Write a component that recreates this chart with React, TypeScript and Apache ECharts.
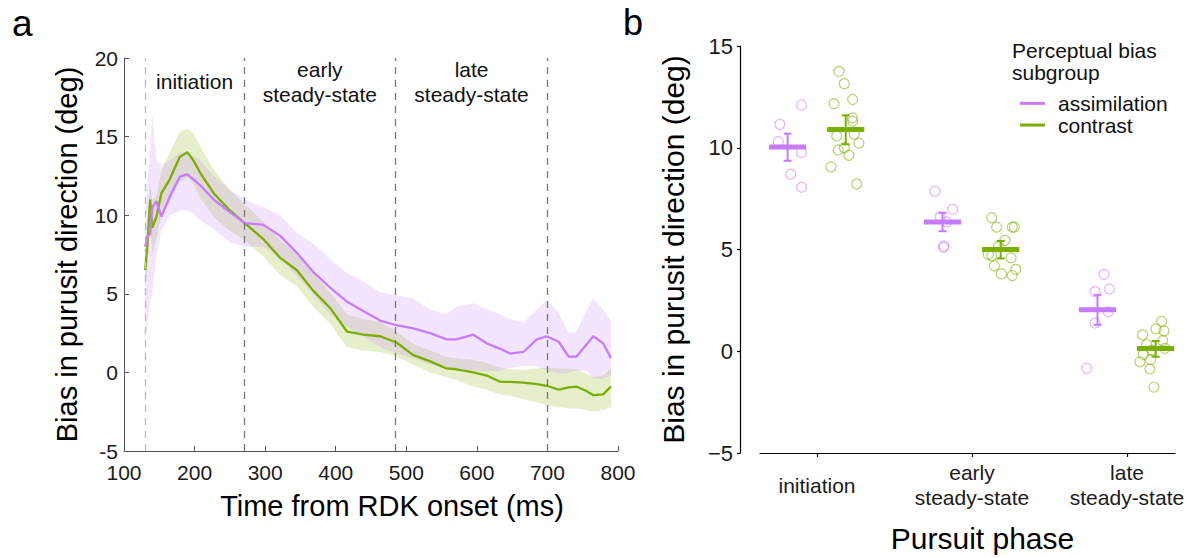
import React, { useEffect, useRef } from "react";
import * as echarts from "echarts";

// ---------- Panel a: bias time course ----------
const timeMs = [130, 133, 137, 140, 146, 153, 165, 179, 190, 198, 208, 227, 250, 271, 297, 321, 345, 368, 392, 416, 439, 463, 486, 510, 534, 557, 571, 595, 614, 633, 647, 666, 685, 699, 716, 730, 741, 756, 765, 779, 790];
const assimMean = [8.0, 8.6, 8.8, 10.5, 10.9, 9.9, 11.2, 12.45, 12.6, 12.3, 11.9, 11.0, 10.2, 9.5, 9.4, 8.7, 7.6, 6.4, 5.4, 4.5, 3.9, 3.3, 3.0, 2.8, 2.5, 2.1, 2.1, 2.4, 1.85, 1.5, 1.2, 1.3, 2.1, 2.3, 1.95, 1.0, 1.0, 1.8, 2.3, 1.85, 0.9];
const assimHigh = [9.5, 12.0, 14.0, 16.5, 13.5, 13.2, 13.5, 14.0, 14.0, 13.8, 13.5, 12.5, 11.6, 11.0, 10.5, 10.0, 8.9, 8.2, 7.2, 6.3, 5.8, 5.1, 4.9, 4.7, 4.0, 3.7, 4.2, 4.4, 4.0, 3.7, 3.4, 3.2, 4.0, 4.6, 3.8, 2.5, 2.6, 4.0, 4.7, 4.0, 3.3];
const assimLow = [2.0, 3.0, 4.5, 5.0, 7.5, 9.0, 10.0, 10.3, 10.3, 10.1, 9.7, 9.1, 8.3, 8.0, 8.0, 7.3, 6.1, 5.0, 3.7, 2.9, 2.3, 1.6, 1.2, 0.9, 0.5, 0.2, 0.15, 0.1, 0.05, 0.1, 0.3, 0.4, 0.4, 0.1, -0.05, 0.0, 0.1, 0.1, -0.4, -0.4, -0.2];
const contrMean = [6.5, 8.0, 11.0, 9.2, 9.9, 11.4, 12.3, 13.7, 14.0, 13.5, 12.7, 11.4, 10.3, 9.5, 8.5, 7.3, 6.5, 5.2, 4.1, 2.6, 2.4, 2.3, 1.9, 1.1, 0.7, 0.25, 0.2, 0.0, -0.2, -0.6, -0.6, -0.65, -0.75, -0.85, -1.1, -0.95, -0.9, -1.2, -1.45, -1.4, -0.9];
const contrHigh = [7.5, 9.5, 12.0, 11.0, 11.2, 12.8, 14.0, 15.3, 15.5, 15.2, 14.4, 12.9, 11.6, 10.7, 9.6, 8.4, 7.5, 6.3, 5.1, 3.7, 3.4, 3.2, 2.6, 1.8, 1.4, 1.0, 0.9, 0.8, 0.6, 0.3, 0.2, 0.15, 0.25, 0.3, 0.25, 0.25, 0.2, -0.1, -0.3, -0.2, 0.3];
const contrLow = [5.5, 6.5, 9.5, 7.5, 8.5, 10.0, 10.8, 12.1, 12.4, 12.0, 11.1, 9.9, 9.0, 8.4, 7.4, 6.2, 5.5, 4.2, 3.1, 1.6, 1.4, 1.3, 1.0, 0.5, 0.0, -0.3, -0.5, -0.9, -1.1, -1.4, -1.5, -1.7, -1.9, -2.1, -2.2, -2.3, -2.3, -2.4, -2.5, -2.4, -2.2];
const phaseBoundsMs = [130, 270, 485, 700];
const phaseLabels = ["initiation", "early\nsteady-state", "late\nsteady-state"];

// ---------- Panel b: bias per pursuit phase ----------
const phasePos = [1, 2, 3];
const assimOffset = -0.19;
const contrOffset = 0.185;
const assimInitBias = [12.1, 11.15, 10.3, 9.76, 8.7, 8.06];
const assimInitJitter = [-0.1, -0.24, -0.25, -0.1, -0.17, -0.1];
const assimEarlyBias = [7.86, 6.97, 6.6, 6.35, 5.18, 5.1];
const assimEarlyJitter = [-0.239, -0.125, -0.206, -0.163, -0.181, -0.185];
const assimLateBias = [3.78, 3.06, 2.93, 1.93, 1.39, -0.84];
const assimLateJitter = [-0.148, -0.114, -0.206, -0.12, -0.206, -0.26];
const contrInitBias = [13.75, 13.15, 12.17, 12.37, 11.47, 11.31, 10.58, 10.66, 10.23, 10.0, 9.89, 9.63, 9.06, 8.22];
const contrInitJitter = [0.142, 0.176, 0.11, 0.23, 0.228, 0.23, 0.127, 0.24, 0.27, 0.176, 0.137, 0.206, 0.09, 0.256];
const contrEarlyBias = [6.56, 6.1, 6.1, 6.1, 5.45, 5.13, 4.76, 4.69, 4.6, 4.2, 4.02, 3.8, 3.72];
const contrEarlyJitter = [0.127, 0.159, 0.26, 0.273, 0.213, 0.17, 0.105, 0.127, 0.252, 0.144, 0.282, 0.19, 0.26];
const contrLateBias = [1.47, 1.1, 1.0, 0.8, 0.52, 0.33, 0.14, -0.16, -0.41, -0.52, -0.87, -1.76, 0.05];
const contrLateJitter = [0.224, 0.187, 0.239, 0.101, 0.23, 0.127, 0.245, 0.105, 0.153, 0.084, 0.148, 0.174, 0.16];
const assimPhaseMean = [10.04, 6.35, 2.04];
const assimPhaseLo = [9.36, 5.9, 1.3];
const assimPhaseHi = [10.69, 6.8, 2.77];
const contrPhaseMean = [10.9, 5.0, 0.14];
const contrPhaseLo = [10.17, 4.56, -0.27];
const contrPhaseHi = [11.59, 5.42, 0.5];

const PURPLE = "#C77CFF";
const GREEN = "#7CAE00";
const FONT = "'Liberation Sans', Arial, Helvetica, sans-serif";

function bandSeries(name: string, low: number[], high: number[], fill: string) {
  return {
    type: "custom",
    name,
    xAxisIndex: 0,
    yAxisIndex: 0,
    silent: true,
    clip: true,
    data: timeMs.map((t, i) => [t, low[i], high[i]]),
    encode: { x: 0, y: [1, 2] },
    renderItem: (params: any, api: any) => {
      if (params.dataIndex !== 0) return null;
      const pts: number[][] = [];
      for (let i = 0; i < timeMs.length; i++) pts.push(api.coord([timeMs[i], high[i]]));
      for (let i = timeMs.length - 1; i >= 0; i--) pts.push(api.coord([timeMs[i], low[i]]));
      return { type: "polygon", shape: { points: pts }, style: { fill } };
    },
  };
}

function jittered(pos: number, bias: number[], jitter: number[]) {
  return bias.map((b, i) => [pos + jitter[i], b]);
}

function summarySeries(name: string, offset: number, mean: number[], lo: number[], hi: number[], color: string) {
  return {
    type: "custom",
    name,
    xAxisIndex: 1,
    yAxisIndex: 1,
    z: 5,
    data: phasePos.map((p, i) => [p + offset, mean[i], lo[i], hi[i]]),
    encode: { x: 0, y: [1, 2, 3] },
    renderItem: (params: any, api: any) => {
      const x = api.value(0);
      const m = api.value(1);
      const pLo = api.coord([x, api.value(2)]);
      const pHi = api.coord([x, api.value(3)]);
      const pL = api.coord([x - 0.12, m]);
      const pR = api.coord([x + 0.12, m]);
      const ls = { stroke: color, lineWidth: 2 };
      return {
        type: "group",
        children: [
          { type: "line", shape: { x1: pLo[0], y1: pLo[1], x2: pHi[0], y2: pHi[1] }, style: ls },
          { type: "line", shape: { x1: pLo[0] - 4, y1: pLo[1], x2: pLo[0] + 4, y2: pLo[1] }, style: ls },
          { type: "line", shape: { x1: pHi[0] - 4, y1: pHi[1], x2: pHi[0] + 4, y2: pHi[1] }, style: ls },
          { type: "rect", shape: { x: pL[0], y: pL[1] - 2.5, width: pR[0] - pL[0], height: 5 }, style: { fill: color } },
        ],
      };
    },
  };
}

export default function App() {
  const ref = useRef<HTMLDivElement>(null);
  useEffect(() => {
    if (!ref.current) return;
    const chart = echarts.init(ref.current, undefined, { renderer: "svg" });
    const option: any = {
      animation: false,
      backgroundColor: "#ffffff",
      textStyle: { fontFamily: FONT },
      grid: [
        { left: 124, right: 578, top: 58, bottom: 107 },
        { left: 760, right: 21, top: 46, bottom: 102 },
      ],
      xAxis: [
        {
          gridIndex: 0,
          type: "value",
          min: 100,
          max: 800,
          interval: 100,
          axisLine: { onZero: false, lineStyle: { color: "#555", width: 1 } },
          axisTick: { inside: true, length: 5, lineStyle: { color: "#555" } },
          axisLabel: { fontSize: 21, color: "#1a1a1a", margin: 11, fontFamily: FONT },
          splitLine: { show: false },
          name: "Time from RDK onset (ms)",
          nameLocation: "middle",
          nameGap: 40,
          nameTextStyle: { fontSize: 29, color: "#000", fontFamily: FONT, padding: [0, 0, 0, 42] },
        },
        {
          gridIndex: 1,
          type: "value",
          min: 0.632,
          max: 3.31,
          axisLine: { onZero: false, lineStyle: { color: "#000", width: 1.2 } },
          axisTick: { show: true, length: 4, customValues: phasePos, lineStyle: { color: "#000", width: 1.2 } },
          axisLabel: {
            customValues: phasePos,
            formatter: (v: number) => phaseLabels[Math.round(v) - 1] || "",
            fontSize: 21,
            lineHeight: 25,
            color: "#1a1a1a",
            verticalAlign: "middle",
            margin: 32,
            fontFamily: FONT,
          },
          splitLine: { show: false },
          name: "Pursuit phase",
          nameLocation: "middle",
          nameGap: 70,
          nameTextStyle: { fontSize: 30, color: "#000", fontFamily: FONT, padding: [0, 0, 0, 30] },
        },
      ],
      yAxis: [
        {
          gridIndex: 0,
          type: "value",
          min: -5,
          max: 20,
          interval: 5,
          axisLine: { show: true, onZero: false, lineStyle: { color: "#555", width: 1 } },
          axisTick: { show: true, inside: true, length: 5, lineStyle: { color: "#555" } },
          axisLabel: { fontSize: 21, color: "#1a1a1a", margin: 6, fontFamily: FONT },
          splitLine: { show: false },
          name: "Bias in purusit direction (deg)",
          nameLocation: "middle",
          nameRotate: 90,
          nameGap: 43,
          nameTextStyle: { fontSize: 29, color: "#000", fontFamily: FONT },
        },
        {
          gridIndex: 1,
          type: "value",
          min: -5,
          max: 15,
          interval: 5,
          offset: 20,
          axisLine: { show: true, onZero: false, lineStyle: { color: "#000", width: 1.2 } },
          axisTick: { show: true, length: 3, lineStyle: { color: "#000", width: 1.2 } },
          axisLabel: {
            fontSize: 22,
            color: "#1a1a1a",
            margin: 7,
            fontFamily: FONT,
            formatter: (v: number) => String(v).replace("-", "\u2212"),
          },
          splitLine: { show: false },
          name: "Bias in purusit direction (deg)",
          nameLocation: "middle",
          nameRotate: 90,
          nameGap: 52,
          nameTextStyle: { fontSize: 30, color: "#000", fontFamily: FONT },
        },
      ],
      legend: {
        data: [
          { name: "assimilation", icon: "rect", itemStyle: { color: PURPLE, borderWidth: 0 } },
          { name: "contrast", icon: "rect", itemStyle: { color: GREEN, borderWidth: 0 } },
        ],
        orient: "vertical",
        left: 1015,
        top: 87.5,
        itemWidth: 25,
        itemHeight: 3,
        itemGap: 0,
        selectedMode: false,
        textStyle: { fontSize: 21, lineHeight: 21.7, color: "#111", fontFamily: FONT, padding: [0, 0, 0, 8] },
      },
      graphic: [
        { type: "text", left: 12, top: 5, style: { text: "a", fontSize: 37, fill: "#000", fontFamily: FONT } },
        { type: "text", left: 623, top: 4, style: { text: "b", fontSize: 36, fill: "#000", fontFamily: FONT } },
        {
          type: "text",
          left: 1012,
          top: 40,
          style: { text: "Perceptual bias\nsubgroup", fontSize: 21, lineHeight: 21.7, fill: "#111", fontFamily: FONT },
        },
      ],
      series: [
        bandSeries("contrast band", contrLow, contrHigh, "rgba(124,174,0,0.2)"),
        bandSeries("assimilation band", assimLow, assimHigh, "rgba(199,124,255,0.2)"),
        {
          type: "line",
          name: "contrast",
          xAxisIndex: 0,
          yAxisIndex: 0,
          data: timeMs.map((t, i) => [t, contrMean[i]]),
          showSymbol: false,
          symbol: "none",
          lineStyle: { color: GREEN, width: 2.3 },
          itemStyle: { color: GREEN },
          z: 3,
          markLine: {
            silent: true,
            symbol: "none",
            label: { show: false },
            lineStyle: { color: "#777", type: [7, 6], width: 1.3 },
            data: phaseBoundsMs.map((v, i) => ({
              xAxis: v,
              lineStyle: i === 0 ? { color: "#bbb", type: [7, 6], width: 1.3 } : undefined,
            })),
          },
          markArea: {
            silent: true,
            itemStyle: { color: "rgba(0,0,0,0)" },
            label: {
              show: true,
              position: ["50%", 23.5],
              align: "center",
              verticalAlign: "middle",
              fontSize: 21,
              lineHeight: 25,
              color: "#111",
              fontFamily: FONT,
            },
            data: phaseLabels.map((lab, i) => [
              { xAxis: phaseBoundsMs[i], name: lab },
              { xAxis: phaseBoundsMs[i + 1] },
            ]),
          },
        },
        {
          type: "line",
          name: "assimilation",
          xAxisIndex: 0,
          yAxisIndex: 0,
          data: timeMs.map((t, i) => [t, assimMean[i]]),
          showSymbol: false,
          symbol: "none",
          lineStyle: { color: PURPLE, width: 2.3 },
          itemStyle: { color: PURPLE },
          z: 4,
        },
        {
          type: "scatter",
          name: "assimilation",
          xAxisIndex: 1,
          yAxisIndex: 1,
          symbol: "circle",
          symbolSize: 10,
          itemStyle: { color: "rgba(255,255,255,0)", borderColor: "rgba(199,124,255,0.7)", borderWidth: 1.2 },
          data: [
            ...jittered(phasePos[0], assimInitBias, assimInitJitter),
            ...jittered(phasePos[1], assimEarlyBias, assimEarlyJitter),
            ...jittered(phasePos[2], assimLateBias, assimLateJitter),
          ],
        },
        {
          type: "scatter",
          name: "contrast",
          xAxisIndex: 1,
          yAxisIndex: 1,
          symbol: "circle",
          symbolSize: 10,
          itemStyle: { color: "rgba(255,255,255,0)", borderColor: "rgba(124,174,0,0.7)", borderWidth: 1.2 },
          data: [
            ...jittered(phasePos[0], contrInitBias, contrInitJitter),
            ...jittered(phasePos[1], contrEarlyBias, contrEarlyJitter),
            ...jittered(phasePos[2], contrLateBias, contrLateJitter),
          ],
        },
        summarySeries("assimilation", assimOffset, assimPhaseMean, assimPhaseLo, assimPhaseHi, PURPLE),
        summarySeries("contrast", contrOffset, contrPhaseMean, contrPhaseLo, contrPhaseHi, GREEN),
      ],
    };
    chart.setOption(option);
    return () => chart.dispose();
  }, []);
  return (
    <div
      ref={ref}
      style={{ position: "fixed", left: 0, top: 0, width: 1196, height: 558, background: "#fff" }}
    />
  );
}
